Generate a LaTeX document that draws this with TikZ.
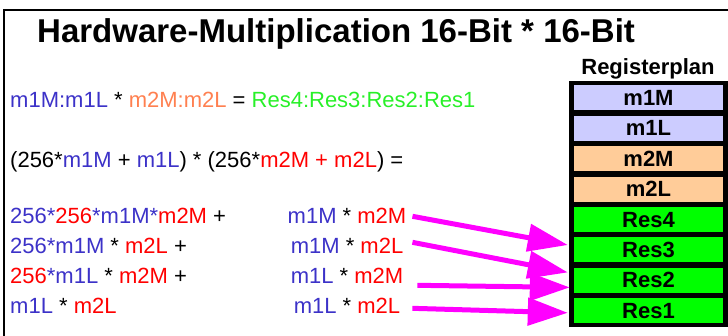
\documentclass[tikz,border=0pt]{standalone}
\usepackage{fontspec}
\setmainfont{Liberation Sans}
\usepackage{xcolor}
\usetikzlibrary{arrows.meta,positioning,fit,backgrounds}

\definecolor{einsblau}{RGB}{60,50,200}
\definecolor{zweirot}{RGB}{255,0,0}
\definecolor{zweiorange}{RGB}{255,128,80}
\definecolor{erggruen}{RGB}{40,240,40}
\definecolor{lila}{RGB}{204,204,255}
\definecolor{pfirsich}{RGB}{255,204,153}
\definecolor{resgruen}{RGB}{0,255,0}
\definecolor{pfeilfarbe}{RGB}{255,0,255}

\newcommand{\eins}[1]{\textcolor{einsblau}{#1}}
\newcommand{\zwei}[1]{\textcolor{zweirot}{#1}}

\begin{document}
\begin{tikzpicture}[
    x=1pt, y=-1pt,
    formel/.style={anchor=base west, inner sep=0pt, font=\fontsize{22}{26}\selectfont},
    produkt/.style={anchor=base, inner sep=0pt, font=\fontsize{22}{26}\selectfont},
    reg/.style={rectangle, minimum width=149pt, minimum height=25pt, inner sep=0pt,
                font=\bfseries\fontsize{22}{26}\selectfont},
    regA/.style={reg, fill=lila},
    regB/.style={reg, fill=pfirsich},
    regRes/.style={reg, fill=resgruen},
    pfeil/.style={-{Triangle[length=40pt, width=27pt]}, line width=5pt, pfeilfarbe},
    node distance=5pt
]
\useasboundingbox (0,0) rectangle (728,336);
\draw[line width=1.5pt] (728,10) -- (4,10) -- (4,336);

\node[anchor=base west, inner sep=0pt, font=\bfseries\fontsize{33}{38}\selectfont]
  (titel) at (37,43) {Hardware-Multiplication 16-Bit * 16-Bit};

% formeln links
\node[formel] (gl1) at (10,108) {\eins{m1M:m1L} * \textcolor{zweiorange}{m2M:m2L} =
  \textcolor{erggruen}{Res4:Res3:Res2:Res1}};
\node[formel] (gl2) at (10,168) {(256*\eins{m1M} + \eins{m1L}) * (256*\zwei{m2M + m2L}) =};

\node[formel] (sMM) at (10,224) {\eins{256*}\zwei{256}\eins{*m1M*}\zwei{m2M} +};
\node[formel] (sML) at (10,254) {\eins{256*m1M} * \zwei{m2L} +};
\node[formel] (sLM) at (10,284) {\zwei{256}\eins{*m1L} * \zwei{m2M} +};
\node[formel] (sLL) at (10,314) {\eins{m1L} * \zwei{m2L}};

\node[produkt] (mMM) at (347,224) {\eins{m1M} * \zwei{m2M}};
\node[produkt] (mML) at (347,254) {\eins{m1M} * \zwei{m2L}};
\node[produkt] (mLM) at (347,284) {\eins{m1L} * \zwei{m2M}};
\node[produkt] (mLL) at (347,314) {\eins{m1L} * \zwei{m2L}};

% registerplan
\node[anchor=base, inner sep=0pt, font=\bfseries\fontsize{22}{26}\selectfont]
  (plan) at (648,75) {Registerplan};
\node[regA] (m1M) at (648.5,98) {m1M};
\node[regA, below=of m1M] (m1L) {m1L};
\node[regB, below=of m1L] (m2M) {m2M};
\node[regB, below=of m2M] (m2L) {m2L};
\node[regRes, below=of m2L] (res4) {Res4};
\node[regRes, below=of res4] (res3) {Res3};
\node[regRes, below=of res3] (res2) {Res2};
\node[regRes, below=of res2] (res1) {Res1};
\begin{scope}[on background layer]
\node[fit=(m1M)(res1), fill=black, inner xsep=4.5pt, inner ysep=4pt] (stapel) {};
\end{scope}

\draw[pfeil] ([xshift=6pt]mMM.east) -- ([xshift=-6pt,yshift=5pt]res3.west);
\draw[pfeil] ([xshift=9pt,yshift=4pt]mML.east) -- ([xshift=-6pt,yshift=8pt]res2.west);
\draw[pfeil] ([xshift=14pt,yshift=-9pt]mLM.east) -- ([xshift=-4pt,yshift=-7pt]res2.west);
\draw[pfeil] ([xshift=12pt,yshift=-2pt]mLL.east) -- ([xshift=-6pt,yshift=-2pt]res1.west);
\end{tikzpicture}
\end{document}
